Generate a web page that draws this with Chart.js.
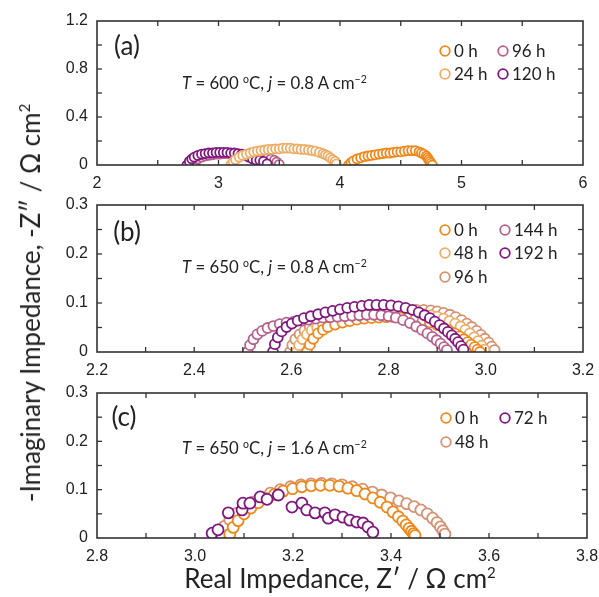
<!DOCTYPE html>
<html><head><meta charset="utf-8">
<script src="https://cdn.jsdelivr.net/npm/chart.js@4/dist/chart.umd.min.js"></script>
<style>
html,body{margin:0;padding:0;background:#fff;}
body{width:599px;height:597px;position:relative;overflow:hidden;font-family:Lato,'Open Sans',sans-serif;color:#222;}
.pane{position:absolute;left:0;width:599px;}
.lbl{position:absolute;white-space:nowrap;line-height:1;}
.panel{font-size:26px;transform:translate(-50%,-50%);}
.cond{font-size:16.8px;transform:translateY(-50%);}
.cond sup{font-size:10.5px;vertical-align:6px;line-height:0;}
.ytitle{left:30px;top:303px;transform:translate(-50%,-50%) rotate(-90deg);font-size:26px;}
.xtitle{left:340px;top:578px;transform:translate(-50%,-50%);font-size:26px;}
.ytitle sup,.xtitle sup{font-size:15px;vertical-align:10px;line-height:0;}
</style>
</head><body>
<div class="pane" style="top:0;height:195px"><canvas id="ca"></canvas></div>
<div class="pane" style="top:195px;height:185px"><canvas id="cb"></canvas></div>
<div class="pane" style="top:380px;height:217px"><canvas id="cc"></canvas></div>
<div class="lbl panel" style="left:127px;top:45px">(a)</div>
<div class="lbl panel" style="left:127px;top:231px">(b)</div>
<div class="lbl panel" style="left:124px;top:416px">(c)</div>
<div class="lbl cond" style="left:182px;top:83px"><i>T</i> = 600 <sup>o</sup>C, <i>j</i> = 0.8 A cm<sup>−2</sup></div>
<div class="lbl cond" style="left:182px;top:267px"><i>T</i> = 650 <sup>o</sup>C, <i>j</i> = 0.8 A cm<sup>−2</sup></div>
<div class="lbl cond" style="left:182px;top:448px"><i>T</i> = 650 <sup>o</sup>C, <i>j</i> = 1.6 A cm<sup>−2</sup></div>
<div class="lbl ytitle">-Imaginary Impedance, -Z″ / Ω cm<sup>2</sup></div>
<div class="lbl xtitle">Real Impedance, Z′ / Ω cm<sup>2</sup></div>
<script>
// ---------- Panel (a): T = 600 °C, j = 0.8 A cm-2 ----------
const aLabels = ['0 h', '24 h', '96 h', '120 h'];
const a0h_x = [4.07,4.09,4.11,4.14,4.17,4.20,4.23,4.26,4.29,4.32,4.35,4.38,4.41,4.44,4.47,4.50,4.53,4.56,4.59,4.62,4.65,4.67,4.69,4.71,4.72,4.73,4.74,4.75,4.76];
const a0h_y = [0.00,0.02,0.035,0.05,0.06,0.07,0.075,0.08,0.085,0.09,0.095,0.10,0.10,0.105,0.11,0.11,0.115,0.12,0.12,0.12,0.11,0.10,0.09,0.075,0.06,0.045,0.03,0.015,0.00];
const a24h_x = [3.10,3.12,3.14,3.17,3.20,3.23,3.26,3.29,3.32,3.35,3.38,3.41,3.44,3.47,3.50,3.53,3.56,3.59,3.62,3.65,3.68,3.71,3.74,3.77,3.80,3.83,3.86,3.88,3.90,3.92,3.94,3.96,3.97];
const a24h_y = [0.00,0.025,0.045,0.065,0.08,0.09,0.10,0.11,0.115,0.12,0.125,0.13,0.13,0.135,0.135,0.14,0.14,0.14,0.135,0.135,0.13,0.13,0.125,0.12,0.115,0.105,0.095,0.085,0.075,0.06,0.045,0.03,0.01];
const a96h_x = [2.79,2.81,2.83,2.86,2.89,2.92,2.95,2.98,3.01,3.04,3.07,3.10,3.13,3.16,3.19,3.22,3.25,3.28,3.31,3.34,3.37,3.40,3.43,3.46,3.48,3.50];
const a96h_y = [0.00,0.03,0.05,0.065,0.075,0.08,0.085,0.09,0.09,0.095,0.095,0.095,0.095,0.09,0.09,0.085,0.075,0.06,0.045,0.05,0.055,0.055,0.05,0.04,0.025,0.005];
const a120h_x = [2.74,2.76,2.78,2.80,2.83,2.86,2.89,2.92,2.95,2.98,3.01,3.04,3.07,3.10,3.13,3.16,3.19,3.22,3.25,3.28,3.31,3.34,3.37,3.40];
const a120h_y = [0.00,0.03,0.05,0.065,0.08,0.09,0.095,0.10,0.10,0.105,0.105,0.105,0.105,0.10,0.10,0.095,0.09,0.08,0.065,0.05,0.04,0.04,0.03,0.01];
const aXTicks = [2,3,4,5,6];
const aYTicks = [0,0.4,0.8,1.2];

// ---------- Panel (b): T = 650 °C, j = 0.8 A cm-2 ----------
const bLabels = ['0 h', '48 h', '96 h', '144 h', '192 h'];
const b0h_x = [2.632,2.638,2.645,2.655,2.665,2.675,2.69,2.705,2.72,2.735,2.75,2.765,2.78,2.795,2.81,2.825,2.84,2.855,2.87,2.885,2.90,2.912,2.924,2.936,2.946,2.955,2.963,2.970,2.977,2.983,2.988];
const b0h_y = [0.00,0.015,0.027,0.038,0.045,0.051,0.056,0.060,0.063,0.066,0.068,0.069,0.070,0.071,0.071,0.070,0.069,0.067,0.064,0.060,0.055,0.050,0.044,0.038,0.032,0.026,0.020,0.015,0.010,0.005,0.00];
const b48h_x = [2.611,2.616,2.623,2.632,2.642,2.653,2.665,2.678,2.692,2.707,2.722,2.737,2.752,2.767,2.782,2.797,2.812,2.827,2.842,2.857,2.872,2.887,2.90,2.913,2.925,2.937,2.948,2.958,2.967,2.976,2.984,2.991,2.997];
const b48h_y = [0.00,0.014,0.026,0.036,0.044,0.050,0.055,0.060,0.064,0.067,0.070,0.072,0.074,0.076,0.077,0.078,0.079,0.079,0.079,0.078,0.077,0.075,0.072,0.068,0.063,0.058,0.052,0.045,0.038,0.030,0.022,0.013,0.005];
const b96h_x = [2.597,2.602,2.608,2.617,2.627,2.638,2.650,2.663,2.677,2.692,2.707,2.722,2.737,2.752,2.767,2.782,2.797,2.812,2.827,2.842,2.857,2.872,2.887,2.90,2.913,2.926,2.938,2.950,2.961,2.971,2.981,2.990,2.998,3.006,3.012,3.018];
const b96h_y = [0.00,0.014,0.026,0.036,0.044,0.050,0.055,0.060,0.064,0.067,0.070,0.073,0.075,0.077,0.079,0.080,0.082,0.083,0.084,0.085,0.086,0.086,0.085,0.083,0.080,0.076,0.071,0.065,0.058,0.051,0.043,0.035,0.027,0.019,0.011,0.004];
const b144h_x = [2.510,2.515,2.522,2.530,2.540,2.551,2.563,2.576,2.590,2.605,2.620,2.635,2.650,2.665,2.680,2.695,2.710,2.725,2.740,2.755,2.770,2.785,2.800,2.815,2.830,2.844,2.857,2.869,2.880,2.890,2.899,2.907,2.914,2.920];
const b144h_y = [0.000,0.014,0.026,0.036,0.043,0.049,0.053,0.057,0.060,0.062,0.064,0.066,0.068,0.070,0.071,0.072,0.073,0.074,0.075,0.076,0.076,0.075,0.073,0.070,0.065,0.059,0.052,0.045,0.038,0.031,0.024,0.017,0.010,0.004];
const b192h_x = [2.562,2.566,2.572,2.580,2.590,2.601,2.613,2.626,2.640,2.655,2.670,2.685,2.700,2.715,2.730,2.745,2.760,2.775,2.790,2.805,2.820,2.835,2.849,2.862,2.874,2.885,2.895,2.905,2.914,2.922,2.930,2.937,2.943,2.949,2.954];
const b192h_y = [0.000,0.016,0.030,0.042,0.051,0.058,0.064,0.069,0.073,0.077,0.081,0.084,0.087,0.090,0.092,0.094,0.096,0.096,0.096,0.095,0.093,0.090,0.086,0.081,0.075,0.069,0.062,0.055,0.048,0.041,0.034,0.027,0.020,0.012,0.005];
const bXTicks = [2.2,2.4,2.6,2.8,3.0,3.2];
const bYTicks = [0,0.1,0.2,0.3];

// ---------- Panel (c): T = 650 °C, j = 1.6 A cm-2 ----------
const cLabels = ['0 h', '48 h', '72 h'];
const c0h_x = [3.071,3.078,3.088,3.100,3.114,3.129,3.145,3.162,3.180,3.199,3.218,3.237,3.256,3.275,3.294,3.312,3.330,3.347,3.363,3.378,3.392,3.404,3.415,3.424,3.431,3.437,3.442,3.446,3.449];
const c0h_y = [0.008,0.022,0.036,0.050,0.062,0.073,0.082,0.090,0.097,0.102,0.106,0.108,0.109,0.109,0.107,0.103,0.098,0.091,0.083,0.074,0.064,0.054,0.044,0.035,0.027,0.020,0.014,0.009,0.005];
const c48h_x = [3.052,3.060,3.071,3.085,3.100,3.117,3.135,3.154,3.174,3.195,3.216,3.237,3.258,3.279,3.300,3.321,3.342,3.362,3.381,3.399,3.416,3.432,3.447,3.461,3.474,3.485,3.494,3.501,3.506,3.510];
const c48h_y = [0.010,0.024,0.038,0.051,0.063,0.074,0.084,0.093,0.100,0.106,0.110,0.112,0.113,0.112,0.110,0.106,0.101,0.095,0.089,0.083,0.077,0.071,0.065,0.058,0.050,0.041,0.032,0.023,0.015,0.008];
const c72h_x = [3.035,3.047,3.068,3.096,3.098,3.112,3.133,3.147,3.170,3.198,3.218,3.228,3.245,3.265,3.272,3.286,3.302,3.316,3.330,3.343,3.353,3.363];
const c72h_y = [0.010,0.017,0.052,0.058,0.072,0.072,0.085,0.080,0.089,0.064,0.072,0.058,0.052,0.052,0.041,0.048,0.043,0.037,0.033,0.031,0.023,0.012];
const cXTicks = [2.8,3.0,3.2,3.4,3.6,3.8];
const cYTicks = [0,0.1,0.2,0.3];

// ---------- colours ----------
const ORANGE = 'rgb(240,135,25)';
const LIGHTOR = 'rgb(238,172,100)';
const TAN = 'rgb(214,145,112)';
const MAUVE = 'rgb(184,96,140)';
const PURPLE = 'rgb(128,22,128)';

function pts(xs, ys){ return xs.map((v,i)=>({x:v,y:ys[i]})); }
function ds(label, xs, ys, color, r){
  return {label, data: pts(xs,ys), borderColor: color, backgroundColor: '#fff',
    pointRadius: r, pointHoverRadius: r, pointBorderWidth: 1.8, showLine: false};
}

const framePlugin = {
  id: 'frame',
  afterDraw(chart, args, opts){
    const ctx = chart.ctx, a = chart.chartArea, xs = chart.scales.x, ys = chart.scales.y;
    ctx.save();
    ctx.strokeStyle = '#333';
    ctx.lineWidth = 1.3;
    const L = 5;
    const line = (x1,y1,x2,y2)=>{ctx.beginPath();ctx.moveTo(x1,y1);ctx.lineTo(x2,y2);ctx.stroke();};
    for (let v = xs.min; v <= xs.max + 1e-9; v += opts.xMinor){
      const p = xs.getPixelForValue(v);
      if (p < a.left + 1 || p > a.right - 1) continue;
      line(p, a.bottom, p, a.bottom - L); line(p, a.top, p, a.top + L);
    }
    for (let v = ys.min; v <= ys.max + 1e-9; v += opts.yMinor){
      const p = ys.getPixelForValue(v);
      if (p < a.top + 1 || p > a.bottom - 1) continue;
      line(a.left, p, a.left + L, p); line(a.right, p, a.right - L, p);
    }
    ctx.lineWidth = 1.6;
    ctx.strokeRect(a.left, a.top, a.right - a.left, a.bottom - a.top);
    // legend
    ctx.font = '17px Lato, "Open Sans", sans-serif';
    ctx.textBaseline = 'middle';
    ctx.textAlign = 'left';
    opts.legend.forEach(([i, cx, cy]) => {
      const d = chart.data.datasets[i];
      ctx.beginPath(); ctx.arc(cx, cy, 4.8, 0, Math.PI*2);
      ctx.fillStyle = '#fff'; ctx.fill();
      ctx.strokeStyle = d.borderColor; ctx.lineWidth = 1.8; ctx.stroke();
      ctx.fillStyle = '#222';
      ctx.fillText(d.label, cx + 9, cy + 1);
    });
    ctx.restore();
  }
};

function makeChart(id, datasets, cfg){
  return new Chart(document.getElementById(id), {
    type: 'scatter',
    data: {datasets},
    plugins: [framePlugin],
    options: {
      responsive: true, maintainAspectRatio: false, animation: false,
      layout: {padding: {left: 0, right: cfg.padRight, top: cfg.padTop, bottom: 0}},
      plugins: {legend: {display: false}, tooltip: {enabled: false},
        frame: {xMinor: cfg.xMinor, yMinor: cfg.yMinor, legend: cfg.legend}},
      scales: {
        x: {type: 'linear', min: cfg.xTicks[0], max: cfg.xTicks[cfg.xTicks.length-1],
          grid: {display: false, drawTicks: false}, border: {display: false},
          afterBuildTicks: s => { s.ticks = cfg.xTicks.map(v => ({value: v})); },
          ticks: {autoSkip: false, maxRotation: 0, padding: 9, color: '#222',
            font: {family: '"Liberation Sans", Arial, sans-serif', size: 16},
            callback: v => cfg.xFmt(v)},
          afterFit: s => { s.height = cfg.xHeight; s.paddingLeft = 0; s.paddingRight = 0; }},
        y: {type: 'linear', min: cfg.yTicks[0], max: cfg.yTicks[cfg.yTicks.length-1],
          grid: {display: false, drawTicks: false}, border: {display: false},
          afterBuildTicks: s => { s.ticks = cfg.yTicks.map(v => ({value: v})); },
          ticks: {autoSkip: false, padding: 9, color: '#222',
            font: {family: '"Liberation Sans", Arial, sans-serif', size: 16},
            callback: v => (v === 0 ? '0' : v.toFixed(1))},
          afterFit: s => { s.width = 97; s.paddingTop = 0; s.paddingBottom = 0; }}
      }
    }
  });
}

// Panel (a): datasets listed top-most first
makeChart('ca', [
  ds(aLabels[0], a0h_x, a0h_y, ORANGE, 4.5),
  ds(aLabels[1], a24h_x, a24h_y, LIGHTOR, 4.5),
  ds(aLabels[3], a120h_x, a120h_y, PURPLE, 4.5),
  ds(aLabels[2], a96h_x, a96h_y, MAUVE, 4.5)
], {padTop: 21, padRight: 16, xHeight: 30, xTicks: aXTicks, yTicks: aYTicks,
    xMinor: 0.5, yMinor: 0.2, xFmt: v => String(Math.round(v)),
    legend: [[0,445,51],[1,445,74],[3,503,51],[2,503,74]]});

makeChart('cb', [
  ds(bLabels[4], b192h_x, b192h_y, PURPLE, 5),
  ds(bLabels[3], b144h_x, b144h_y, MAUVE, 5),
  ds(bLabels[0], b0h_x, b0h_y, ORANGE, 5),
  ds(bLabels[1], b48h_x, b48h_y, LIGHTOR, 5),
  ds(bLabels[2], b96h_x, b96h_y, TAN, 5)
], {padTop: 10, padRight: 16, xHeight: 28, xTicks: bXTicks, yTicks: bYTicks,
    xMinor: 0.1, yMinor: 0.05, xFmt: v => v.toFixed(1),
    legend: [[2,445,35],[3,445,58],[4,445,82],[1,505,35],[0,505,58]]});

makeChart('cc', [
  ds(cLabels[2], c72h_x, c72h_y, PURPLE, 5.5),
  ds(cLabels[0], c0h_x, c0h_y, ORANGE, 5.5),
  ds(cLabels[1], c48h_x, c48h_y, TAN, 5.5)
], {padTop: 13, padRight: 12, xHeight: 59, xTicks: cXTicks, yTicks: cYTicks,
    xMinor: 0.1, yMinor: 0.05, xFmt: v => v.toFixed(1),
    legend: [[1,446,38],[2,446,62],[0,505,38]]});
</script>
</body></html>
